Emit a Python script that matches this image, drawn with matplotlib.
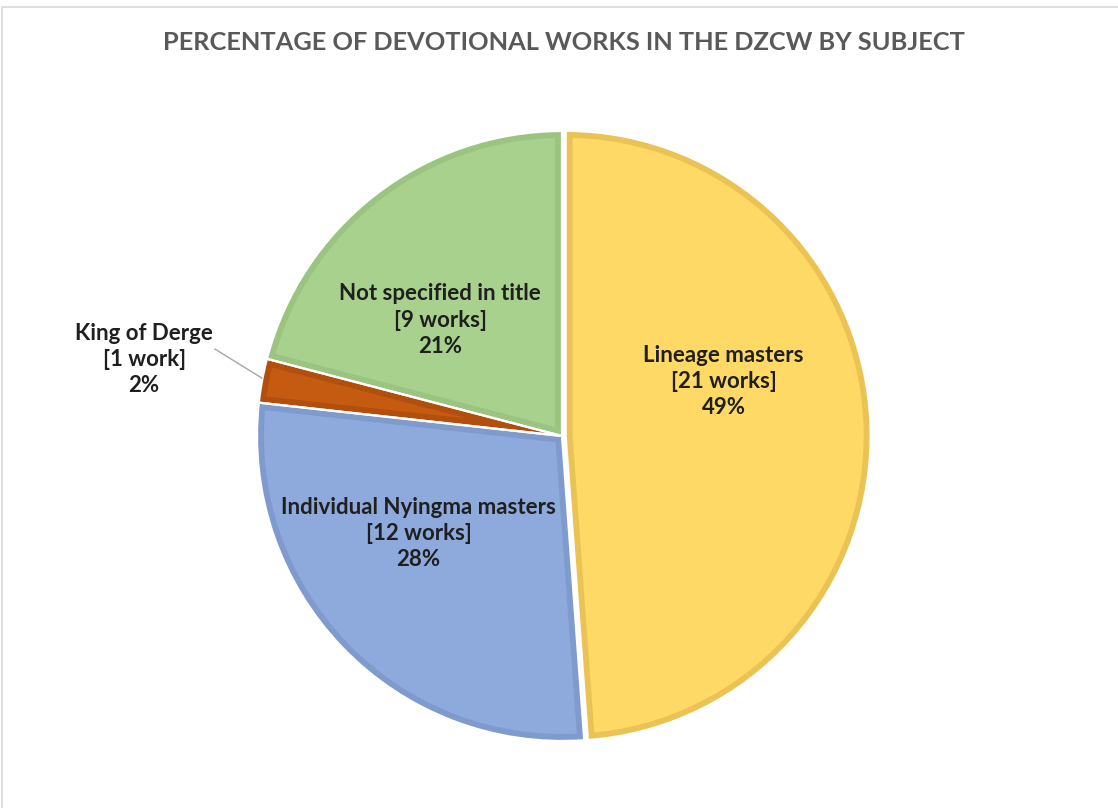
import matplotlib.pyplot as plt
from matplotlib.patches import Rectangle

plt.rcParams['font.family'] = ['Lato', 'DejaVu Sans']

# data
subjects = ["Lineage masters", "Individual Nyingma masters", "King of Derge", "Not specified in title"]
works = [21, 12, 1, 9]
pcts = [49, 28, 2, 21]
unit = ["works", "works", "work", "works"]

face_cols = ["#FFD966", "#8EA9DB", "#C55A11", "#A9D18E"]
edge_cols = ["#EAC354", "#7F9BCD", "#B24F0D", "#9AC47F"]
explode = [0.012, 0, 0, 0]

# label positions (data units, radius = 1)
label_xy = [(0.53, 0.18), (-0.47, -0.32), (-1.37, 0.25), (-0.40, 0.38)]

fig = plt.figure(figsize=(11.18, 8.08), dpi=100)
ax = fig.add_axes([74 / 1118, 6 / 808, 976 / 1118, 732 / 808])

wedges, _ = ax.pie(works, colors=face_cols, startangle=90, counterclock=False,
                   explode=explode, radius=1.0)
for w, ec in zip(wedges, edge_cols):
    w.set_edgecolor(ec)
    w.set_linewidth(10)
    w.set_clip_on(True)
    w.set_clip_path(w)  # keep the darker band inside the slice

# thin white separators on top
sep, _ = ax.pie(works, startangle=90, counterclock=False, explode=explode, radius=1.0,
                wedgeprops=dict(linewidth=1.6, edgecolor="white", facecolor="none"))

for name, n, u, p, (x, y) in zip(subjects, works, unit, pcts, label_xy):
    ax.text(x, y, f"{name}\n[{n} {u}]\n{p}%", ha="center", va="center",
            fontsize=16, fontweight="bold", color="#1f1f1f", linespacing=1.3)

# leader line for small slice
ax.plot([-1.138, -0.984], [0.285, 0.19], color="#a6a6a6", lw=1)

ax.set_xlim(-1.6, 1.6)
ax.set_ylim(-1.2, 1.2)
ax.set_aspect("auto")
ax.axis("off")

fig.text(564 / 1118, 1 - 42 / 808, "PERCENTAGE OF DEVOTIONAL WORKS IN THE DZCW BY SUBJECT",
         ha="center", va="center", fontsize=18.3, fontweight="bold", color="#595959")

fig.patches.append(Rectangle((2 / 1118, -0.1), 1.2, 1.1 - 7 / 808, transform=fig.transFigure,
                             fill=False, edgecolor="#d9d9d9", lw=1.2))

fig.savefig("out.png", dpi=100, facecolor="white")
